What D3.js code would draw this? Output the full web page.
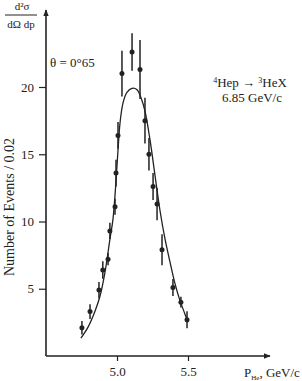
<!DOCTYPE html>
<html>
<head>
<meta charset="utf-8">
<script src="https://cdn.jsdelivr.net/npm/d3@7"></script>
<style>
  body { margin: 0; background: #fff; }
  svg { display: block; }
  text { font-family: "Liberation Serif", "DejaVu Serif", serif; fill: #222; }
</style>
</head>
<body>
<svg id="chart" width="302" height="381"></svg>
<script>
// measured points (momentum, events / 0.02, half error)
const px = [4.753, 4.81, 4.873, 4.90, 4.937, 4.95, 4.986, 4.993, 5.007, 5.035, 5.106, 5.162, 5.197, 5.225, 5.254, 5.282, 5.317, 5.394, 5.45, 5.493];
const py = [2.1, 3.3, 4.9, 6.4, 7.2, 9.3, 11.1, 13.6, 16.4, 21.0, 22.6, 21.3, 17.5, 15.0, 12.6, 11.3, 7.9, 5.1, 4.0, 2.7];
const perr = [0.5, 0.55, 0.6, 0.65, 0.45, 0.6, 0.6, 1.0, 1.0, 1.7, 1.4, 2.2, 1.7, 1.2, 1.0, 1.2, 1.15, 0.63, 0.4, 0.63];

// fitted curve
const cx = [4.746, 4.796, 4.845, 4.880, 4.915, 4.951, 4.972, 4.993, 5.007, 5.021, 5.042, 5.070, 5.106, 5.141, 5.169, 5.197, 5.232, 5.268, 5.303, 5.338, 5.373, 5.408, 5.444, 5.472, 5.500];
const cy = [1.33, 2.15, 3.33, 4.44, 6.2, 8.74, 10.2, 13.0, 15.3, 17.3, 18.8, 19.6, 19.9, 19.8, 19.2, 18.2, 16.1, 13.4, 10.8, 8.7, 7.0, 5.4, 4.1, 3.3, 2.5];

const yTicks = [5, 10, 15, 20];
const xTicks = [5.0, 5.5];

const svg = d3.select("#chart");
const ink = "#222";

const x = d3.scaleLinear().domain([4.5, 5.5]).range([46, 188]);
const y = d3.scaleLinear().domain([0, 20]).range([356, 87]);

const x0 = x(4.5), y0 = y(0);
const xEnd = 270, yTop = 10;

// axes lines with arrows
svg.append("defs").append("marker")
    .attr("id", "arrow")
    .attr("viewBox", "0 0 10 10")
    .attr("refX", 9).attr("refY", 5)
    .attr("markerWidth", 7).attr("markerHeight", 7)
    .attr("markerUnits", "userSpaceOnUse")
    .attr("orient", "auto")
    .append("path")
    .attr("d", "M0,1 L10,5 L0,9 Z")
    .attr("fill", ink);

svg.append("line")
    .attr("x1", x0).attr("y1", y0).attr("x2", x0).attr("y2", yTop)
    .attr("stroke", ink).attr("stroke-width", 1.6)
    .attr("marker-end", "url(#arrow)");

svg.append("line")
    .attr("x1", x0).attr("y1", y0).attr("x2", xEnd).attr("y2", y0)
    .attr("stroke", ink).attr("stroke-width", 1.6)
    .attr("marker-end", "url(#arrow)");

const yAxis = d3.axisLeft(y).tickValues(yTicks).tickSize(7).tickPadding(5).tickFormat(d3.format("d"));
const gy = svg.append("g").attr("transform", `translate(${x0},0)`).call(yAxis);
gy.select(".domain").remove();
gy.selectAll("line").attr("stroke", ink).attr("stroke-width", 1.2);
gy.selectAll("text").style("font-size", "13px").attr("fill", ink)
    .style("font-family", "'Liberation Serif', serif");

const xAxis = d3.axisBottom(x).tickValues(xTicks).tickSize(5).tickPadding(6).tickFormat(d3.format(".1f"));
const gx = svg.append("g").attr("transform", `translate(0,${y0})`).call(xAxis);
gx.select(".domain").remove();
gx.selectAll("line").attr("stroke", ink).attr("stroke-width", 1.2);
gx.selectAll("text").style("font-size", "13px").attr("fill", ink)
    .style("font-family", "'Liberation Serif', serif");

// fitted curve
const line = d3.line()
    .x((d, i) => x(cx[i]))
    .y(d => y(d))
    .curve(d3.curveCatmullRom);

svg.append("path")
    .datum(cy)
    .attr("fill", "none")
    .attr("stroke", ink)
    .attr("stroke-width", 1.3)
    .attr("d", line);

// error bars + points
const pts = px.map((v, i) => ({ x: v, y: py[i], e: perr[i] }));

svg.selectAll("line.err")
    .data(pts)
    .join("line")
    .attr("class", "err")
    .attr("x1", d => x(d.x)).attr("x2", d => x(d.x))
    .attr("y1", d => y(d.y - d.e)).attr("y2", d => y(d.y + d.e))
    .attr("stroke", ink).attr("stroke-width", 1.5);

svg.selectAll("circle.pt")
    .data(pts)
    .join("circle")
    .attr("class", "pt")
    .attr("cx", d => x(d.x)).attr("cy", d => y(d.y))
    .attr("r", 2.5)
    .attr("fill", ink);

// y label (fraction)
svg.append("text").attr("x", 22).attr("y", 10).attr("text-anchor", "middle")
    .style("font-size", "11px").text("d²σ");
svg.append("line").attr("x1", 5).attr("x2", 37).attr("y1", 15).attr("y2", 15)
    .attr("stroke", ink).attr("stroke-width", 1);
svg.append("text").attr("x", 21).attr("y", 28).attr("text-anchor", "middle")
    .style("font-size", "11px").text("dΩ dp");

svg.append("text")
    .attr("transform", "translate(14,207) rotate(-90)")
    .attr("text-anchor", "middle")
    .style("font-size", "14px")
    .text("Number of Events / 0.02");

svg.append("text").attr("x", 50).attr("y", 67)
    .style("font-size", "13px").text("θ = 0°65");

// reaction annotation
const r = svg.append("text").attr("x", 250).attr("y", 87).attr("text-anchor", "middle")
    .style("font-size", "13px");
r.append("tspan").attr("dy", -4).style("font-size", "8px").text("4");
r.append("tspan").attr("dy", 4).text("Hep → ");
r.append("tspan").attr("dy", -4).style("font-size", "8px").text("3");
r.append("tspan").attr("dy", 4).text("HeX");

svg.append("text").attr("x", 252).attr("y", 102).attr("text-anchor", "middle")
    .style("font-size", "13px").text("6.85 GeV/c");

// x label
const xl = svg.append("text").attr("x", 244).attr("y", 377).style("font-size", "13px");
xl.append("tspan").text("P");
xl.append("tspan").attr("dy", 3).style("font-size", "7px").text("He");
xl.append("tspan").attr("dy", -3).text(", GeV/c");
</script>
</body>
</html>
